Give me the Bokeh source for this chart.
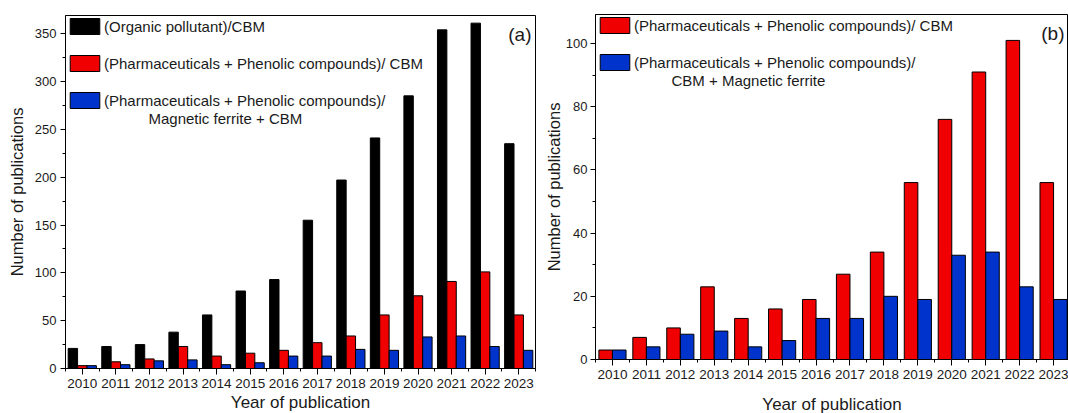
from bokeh.plotting import figure
from bokeh.models import Range1d, FixedTicker, Legend, LegendItem, Label, Title, ColumnDataSource
from bokeh.transform import dodge
from bokeh.layouts import row
from bokeh.embed import file_html
from bokeh.resources import INLINE

# ---- data ----
years = list(range(2010, 2024))
tick_labels = [str(y) for y in years]
organic_cbm = [21, 23, 25, 38, 56, 81, 93, 155, 197, 241, 285, 354, 361, 235]
pharm_cbm = [3, 7, 10, 23, 13, 16, 19, 27, 34, 56, 76, 91, 101, 56]
pharm_ferrite = [3, 4, 8, 9, 4, 6, 13, 13, 20, 19, 33, 34, 23, 19]

names_a = ["(Organic pollutant)/CBM",
           "(Pharmaceuticals + Phenolic compounds)/ CBM",
           "(Pharmaceuticals + Phenolic compounds)/"]
extra_a = "Magnetic ferrite + CBM"
names_b = ["(Pharmaceuticals + Phenolic compounds)/ CBM",
           "(Pharmaceuticals + Phenolic compounds)/"]
extra_b = "CBM + Magnetic ferrite"
x_title = "Year of publication"
y_title = "Number of publications"

FONT = "Liberation Sans"
BLACK, RED, BLUE = "#000000", "#f00000", "#0033cc"
TXT = "#1a1a1a"

src = ColumnDataSource(dict(year=years, organic=organic_cbm, pcbm=pharm_cbm, pfer=pharm_ferrite))


def make_fig(width, height, xend, ymax, ymajor, yminor, bl, bb, br, bt,
             gap, ylab_standoff, ytick_standoff):
    p = figure(width=width, height=height, output_backend="svg", toolbar_location=None,
               x_range=Range1d(2009.5, xend), y_range=Range1d(0, ymax),
               min_border_left=bl, min_border_bottom=bb, min_border_right=br, min_border_top=bt)
    p.frame_align = False
    p.xgrid.visible = False
    p.ygrid.visible = False
    p.outline_line_color = "black"
    p.outline_line_width = 1
    p.outline_line_alpha = 1
    p.xaxis.ticker = FixedTicker(ticks=years, minor_ticks=[y - 0.5 for y in years] + [2023.5])
    p.xaxis.major_label_overrides = {y: s for y, s in zip(years, tick_labels)}
    p.yaxis.ticker = FixedTicker(ticks=ymajor, minor_ticks=yminor)
    for ax in (p.xaxis[0], p.yaxis[0]):
        ax.axis_line_color = "black"
        ax.major_tick_line_color = "black"
        ax.minor_tick_line_color = "black"
        ax.major_tick_in = 0
        ax.minor_tick_in = 0
        ax.minor_tick_out = 3
        ax.major_label_text_font = FONT
        ax.major_label_text_color = TXT
        ax.axis_label_text_font = FONT
        ax.axis_label_text_font_size = "16.5px"
        ax.axis_label_text_font_style = "normal"
        ax.axis_label_text_color = TXT
    p.xaxis.major_tick_out = 6
    p.yaxis.major_tick_out = 5
    p.xaxis.major_label_standoff = 4
    p.yaxis.major_label_standoff = ytick_standoff
    p.xaxis.major_label_text_font_size = "13.5px"
    p.yaxis.major_label_text_font_size = "13px"
    p.yaxis.axis_label = y_title
    p.yaxis.axis_label_standoff = ylab_standoff
    if gap > 0:
        p.add_layout(Title(text=" ", text_font_size="1px", standoff=gap), "below")
    p.add_layout(Title(text=x_title, align="center", text_font=FONT, text_font_size="17px",
                       text_font_style="normal", text_color=TXT, standoff=0),
                 "below")
    return p


def legend(p, items, extra, extra_dx, extra_dy):
    lg = Legend(items=items, location="top_left", glyph_width=37, glyph_height=20,
                label_standoff=1, spacing=17, padding=0, margin=1,
                border_line_alpha=0, background_fill_alpha=0,
                label_text_font=FONT, label_text_font_size="15px", label_text_color=TXT)
    p.add_layout(lg)
    p.add_layout(Label(x=extra_dx, x_units="screen", y=p.y_range.end, y_units="data",
                       y_offset=-extra_dy, text=extra, text_font=FONT, text_font_size="15px",
                       text_color=TXT, text_baseline="middle"))


def tag(p, text, dx):
    p.add_layout(Label(x=p.x_range.end, y=p.y_range.end, x_offset=dx, y_offset=-8,
                       text=text, text_font=FONT, text_font_size="19px", text_color=TXT,
                       text_align="right", text_baseline="top"))


# ---- panel (a) ----
pa = make_fig(541, 413, 2023.5, 369, list(range(0, 351, 50)), list(range(25, 370, 50)),
              65, 45, 6, 15, 0, 6, 4)
w = 0.28
ra = pa.vbar(x=dodge("year", -w, range=pa.x_range), top="organic", width=w, source=src,
             fill_color=BLACK, line_color="black", line_width=1)
rb = pa.vbar(x=dodge("year", 0, range=pa.x_range), top="pcbm", width=w, source=src,
             fill_color=RED, line_color="black", line_width=1)
rc = pa.vbar(x=dodge("year", w, range=pa.x_range), top="pfer", width=w, source=src,
             fill_color=BLUE, line_color="black", line_width=1)
legend(pa, [LegendItem(label=names_a[0], renderers=[ra]),
            LegendItem(label=names_a[1], renderers=[rb]),
            LegendItem(label=names_a[2], renderers=[rc])], extra_a, 83, 103)
tag(pa, "(a)", -4)

# ---- panel (b) ----
pb = make_fig(527, 413, 2023.44, 109.2, list(range(0, 101, 20)), list(range(10, 110, 20)),
              51, 54, 0, 14, 8, 0, 3)
wb = 0.4
rd = pb.vbar(x=dodge("year", -wb / 2, range=pb.x_range), top="pcbm", width=wb, source=src,
             fill_color=RED, line_color="black", line_width=1)
re = pb.vbar(x=dodge("year", wb / 2, range=pb.x_range), top="pfer", width=wb, source=src,
             fill_color=BLUE, line_color="black", line_width=1)
legend(pb, [LegendItem(label=names_b[0], renderers=[rd]),
            LegendItem(label=names_b[1], renderers=[re])], extra_b, 76, 66)
tag(pb, "(b)", -4)

layout = row(pa, pb)
open("out.html", "w").write(file_html(layout, INLINE))
